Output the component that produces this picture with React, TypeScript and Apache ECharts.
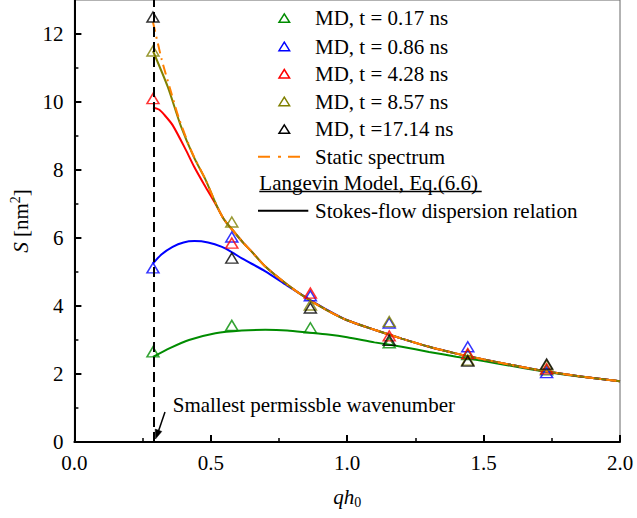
import React, { useEffect, useRef } from "react";
import * as echarts from "echarts";

const FONT = "Liberation Serif";

// MD sample wavenumbers (q h0)
const mdQ = [0.288, 0.577, 0.865, 1.154, 1.442, 1.731];
const md017 = [2.65, 3.43, 3.36, 2.92, 2.57, 2.12];
const md086 = [5.12, 6.03, 4.3, 3.5, 2.8, 2.04];
const md428 = [10.1, 5.85, 4.38, 3.12, 2.6, 2.15];
const md857 = [11.5, 6.47, 4.03, 3.54, 2.41, 2.26];
const md1714 = [12.5, 5.41, 3.94, 2.99, 2.38, 2.29];

// Curves: [q h0, S]
const staticSpectrum = [
  [0.288, 12.35], [0.32, 11.25], [0.354, 10.3], [0.384, 9.5], [0.432, 8.5],
  [0.481, 7.71], [0.52, 6.98], [0.548, 6.55], [0.578, 6.25], [0.62, 5.85],
  [0.65, 5.6], [0.7, 5.16], [0.78, 4.63], [0.856, 4.2], [0.93, 3.86], [1.0, 3.58],
  [1.1, 3.3], [1.2, 3.04], [1.3, 2.8], [1.4, 2.6], [1.5, 2.43], [1.6, 2.27],
  [1.7, 2.12], [1.8, 1.99], [1.9, 1.88], [2.0, 1.79],
];
const langevin017 = [
  [0.288, 2.5], [0.35, 2.76], [0.42, 3.0], [0.517, 3.2], [0.614, 3.28],
  [0.7, 3.3], [0.78, 3.28], [0.856, 3.22], [0.93, 3.16], [1.0, 3.08], [1.1, 2.93],
  [1.2, 2.8], [1.3, 2.65], [1.4, 2.51], [1.5, 2.38], [1.6, 2.24], [1.7, 2.1],
  [1.8, 1.98], [1.9, 1.88], [2.0, 1.79],
];
const langevin086 = [
  [0.288, 5.25], [0.32, 5.52], [0.36, 5.74], [0.4, 5.87], [0.44, 5.91],
  [0.49, 5.87], [0.541, 5.74], [0.578, 5.58], [0.614, 5.4], [0.7, 5.02],
  [0.78, 4.6], [0.856, 4.22], [0.93, 3.87], [1.0, 3.58], [1.1, 3.3],
  [1.2, 3.04], [1.3, 2.8], [1.4, 2.6], [1.5, 2.43], [1.6, 2.27], [1.7, 2.12],
  [1.8, 1.99], [1.9, 1.88], [2.0, 1.79],
];
const langevin428 = [
  [0.288, 9.84], [0.31, 9.78], [0.33, 9.62], [0.36, 9.32], [0.408, 8.6],
  [0.44, 8.08], [0.475, 7.58], [0.5, 7.24], [0.52, 6.96], [0.548, 6.55],
  [0.578, 6.25], [0.62, 5.85], [0.65, 5.6], [0.7, 5.16], [0.78, 4.63],
  [0.856, 4.2], [0.93, 3.86], [1.0, 3.58], [1.1, 3.3], [1.2, 3.04], [1.3, 2.8],
  [1.4, 2.6], [1.5, 2.43], [1.6, 2.27], [1.7, 2.12], [1.8, 1.99], [1.9, 1.88],
  [2.0, 1.79],
];
const langevin857 = [
  [0.288, 11.5], [0.342, 10.45], [0.39, 9.3], [0.438, 8.38], [0.481, 7.71],
  [0.52, 6.98], [0.548, 6.55], [0.578, 6.25], [0.62, 5.85], [0.65, 5.6],
  [0.7, 5.16], [0.78, 4.63], [0.856, 4.2], [0.93, 3.86], [1.0, 3.58], [1.1, 3.3],
  [1.2, 3.04], [1.3, 2.8], [1.4, 2.6], [1.5, 2.43], [1.6, 2.27], [1.7, 2.12],
  [1.8, 1.99], [1.9, 1.88], [2.0, 1.79],
];

const smallestQ = 0.288;
const xTicks = [0, 0.5, 1, 1.5, 2];
const xMinorTicks = [0.25, 0.75, 1.25, 1.75];
const yTicks = [0, 2, 4, 6, 8, 10, 12];
const yMinorTicks = [1, 3, 5, 7, 9, 11];

const mdLabels = [
  "MD, t = 0.17 ns",
  "MD, t = 0.86 ns",
  "MD, t = 4.28 ns",
  "MD, t = 8.57 ns",
  "MD, t =17.14 ns",
];
const colors = ["#008c00", "#0000ff", "#ff0000", "#808000", "#000000"];
const ORANGE = "#ff8000";

export default function App() {
  const ref = useRef<HTMLDivElement>(null);
  useEffect(() => {
    if (!ref.current) return;
    const chart = echarts.init(ref.current, null, { renderer: "svg" });
    const mdSets = [md017, md086, md428, md857, md1714];

    const lineSeries = (data: number[][], color: string) => ({
      type: "line",
      data,
      smooth: 0.25,
      showSymbol: false,
      symbol: "none",
      z: 2,
      lineStyle: { color, width: 2 },
    });

    const txt = (text: string, x: number, y: number) => ({
      type: "text",
      x,
      y,
      style: { text, fontFamily: FONT, fontSize: 21, fill: "#000", verticalAlign: "middle", align: "left" },
    });

    const legendRowsY = [18.3, 46.7, 74, 101.7, 129.3];
    const legendGraphics: any[] = [];
    mdLabels.forEach((lab, i) => {
      const y = legendRowsY[i];
      legendGraphics.push({
        type: "polygon",
        shape: { points: [[284.3, y - 4.5], [289.6, y + 4], [279, y + 4]] },
        style: { fill: "none", stroke: colors[i], lineWidth: 1.5 },
      });
      legendGraphics.push(txt(lab, 315, y));
    });
    legendGraphics.push(
      {
        type: "line",
        shape: { x1: 258, y1: 156.7, x2: 302, y2: 156.7 },
        style: { stroke: ORANGE, lineWidth: 2, lineDash: [12, 8, 3, 7] },
      },
      txt("Static spectrum", 315, 156.7),
      txt("Langevin Model, Eq.(6.6)", 259.3, 183.3),
      {
        type: "line",
        shape: { x1: 259.3, y1: 191.5, x2: 481.7, y2: 191.5 },
        style: { stroke: "#000", lineWidth: 1.5 },
      },
      {
        type: "line",
        shape: { x1: 258, y1: 210.7, x2: 308.3, y2: 210.7 },
        style: { stroke: "#000", lineWidth: 2 },
      },
      txt("Stokes-flow dispersion relation", 315, 210.7),
      txt("Smallest permissble wavenumber", 172.7, 405),
      {
        type: "line",
        shape: { x1: 165, y1: 412, x2: 158.5, y2: 431 },
        style: { stroke: "#000", lineWidth: 1.5 },
      },
      {
        type: "polygon",
        shape: { points: [[155.5, 439], [161.8, 431.4], [155.2, 429.1]] },
        style: { fill: "#000", stroke: "#000", lineWidth: 0.5 },
      }
    );

    const axisCommon = {
      min: 0,
      axisLine: { show: true, onZero: false, lineStyle: { color: "#000", width: 2 } },
      splitLine: { show: false },
    };

    chart.setOption({
      animation: false,
      backgroundColor: "#fff",
      textStyle: { fontFamily: FONT },
      grid: {
        left: 71,
        right: 17,
        top: 0,
        bottom: 76,
        show: true,
        borderColor: "#666",
        borderWidth: 1,
        backgroundColor: "transparent",
      },
      xAxis: [
        {
          ...axisCommon,
          type: "value",
          max: 2,
          interval: 0.5,
          axisTick: { show: true, inside: true, length: 7, customValues: xTicks, lineStyle: { color: "#000", width: 2 } },
          axisLabel: {
            customValues: xTicks,
            formatter: (v: number) => v.toFixed(1),
            fontFamily: FONT,
            fontSize: 21,
            color: "#000",
            margin: 10,
          },
          name: "{i|qh}{sub|0}",
          nameLocation: "middle",
          nameGap: 43,
          nameTextStyle: {
            fontFamily: FONT,
            fontSize: 21,
            color: "#000",
            rich: {
              i: { fontFamily: FONT, fontSize: 21, fontStyle: "italic", color: "#000", lineHeight: 24, verticalAlign: "middle" },
              sub: { fontFamily: FONT, fontSize: 14, color: "#000", lineHeight: 14, verticalAlign: "bottom" },
            },
          },
        },
        {
          type: "value",
          min: 0,
          max: 2,
          position: "bottom",
          axisLine: { show: false },
          splitLine: { show: false },
          axisLabel: { show: false },
          axisTick: { show: true, inside: true, length: 4, customValues: xMinorTicks, lineStyle: { color: "#000", width: 1.5 } },
        },
      ],
      yAxis: [
        {
          ...axisCommon,
          type: "value",
          max: 13,
          interval: 2,
          axisTick: { show: true, inside: true, length: 7, customValues: yTicks, lineStyle: { color: "#000", width: 2 } },
          axisLabel: { customValues: yTicks, fontFamily: FONT, fontSize: 21, color: "#000", margin: 11 },
          name: "{i|S} [nm{sup|2}]",
          nameLocation: "middle",
          nameRotate: 90,
          nameGap: 38,
          nameTextStyle: {
            fontFamily: FONT,
            fontSize: 21,
            color: "#000",
            rich: {
              i: { fontFamily: FONT, fontSize: 21, fontStyle: "italic", color: "#000", lineHeight: 26, verticalAlign: "middle" },
              sup: { fontFamily: FONT, fontSize: 14, color: "#000", lineHeight: 14, verticalAlign: "top" },
            },
          },
        },
        {
          type: "value",
          min: 0,
          max: 13,
          position: "left",
          axisLine: { show: false },
          splitLine: { show: false },
          axisLabel: { show: false },
          axisTick: { show: true, inside: true, length: 4, customValues: yMinorTicks, lineStyle: { color: "#000", width: 1.5 } },
        },
      ],
      graphic: legendGraphics,
      series: [
        lineSeries(langevin017, colors[0]),
        lineSeries(langevin086, colors[1]),
        lineSeries(langevin428, colors[2]),
        lineSeries(langevin857, colors[3]),
        {
          ...lineSeries(staticSpectrum, ORANGE),
          lineStyle: { color: ORANGE, width: 2, type: [10, 5, 2, 5] },
          markLine: {
            silent: true,
            symbol: "none",
            label: { show: false },
            lineStyle: { color: "#000", width: 2, type: [10, 5] },
            data: [{ xAxis: smallestQ }],
          },
        },
        ...mdSets.map((vals, i) => ({
          type: "scatter",
          name: mdLabels[i],
          z: 3,
          symbol: "triangle",
          symbolSize: [12, 10],
          data: mdQ.map((q, j) => [q, vals[j]]),
          itemStyle: { color: "rgba(0,0,0,0)", borderColor: colors[i], borderWidth: 1.5 },
        })),
      ],
    });
    return () => chart.dispose();
  }, []);
  return (
    <div
      ref={ref}
      style={{ position: "fixed", left: 0, top: 0, width: 637, height: 518, background: "#fff" }}
    />
  );
}
